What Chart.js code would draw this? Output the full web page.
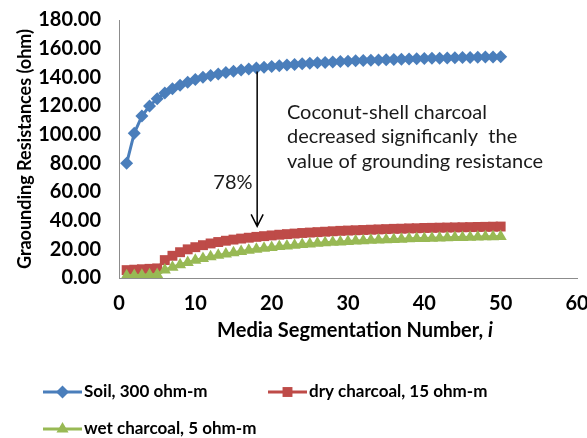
<!DOCTYPE html>
<html>
<head>
<meta charset="utf-8">
<script src="https://cdn.jsdelivr.net/npm/chart.js@4.4.1/dist/chart.umd.min.js"></script>
<style>
  html, body { margin: 0; padding: 0; background: #ffffff; }
  #wrap { width: 587px; height: 438px; position: relative; }
</style>
</head>
<body>
<div id="wrap"><canvas id="c" width="587" height="438"></canvas></div>
<script>
// Media segmentation numbers (x values)
const segments = [1,2,3,4,5,6,7,8,9,10,11,12,13,14,15,16,17,18,19,20,21,22,23,24,25,26,27,28,29,30,31,32,33,34,35,36,37,38,39,40,41,42,43,44,45,46,47,48,49,50];

// Grounding resistance (ohm)
const soil300 = [80,101,113,120,125,129,132,134.5,136.5,138.5,140,141.3,142.4,143.4,144.3,145.1,145.8,146.5,147.1,147.6,148.1,148.6,149.0,149.4,149.8,150.1,150.4,150.7,151.0,151.3,151.5,151.7,151.9,152.1,152.3,152.5,152.7,152.8,153.0,153.1,153.3,153.4,153.5,153.6,153.8,153.9,154.0,154.1,154.2,154.3];
const dryCharcoal15 = [5.5,5.8,6.1,6.4,6.7,12.5,15.5,18,20,21.5,22.9,24.1,25.1,26.0,26.8,27.5,28.1,28.7,29.2,29.7,30.2,30.6,31.0,31.4,31.7,32.0,32.3,32.6,32.9,33.1,33.3,33.5,33.7,33.9,34.1,34.3,34.4,34.6,34.7,34.9,35.0,35.1,35.2,35.3,35.4,35.5,35.6,35.7,35.8,35.9];
const wetCharcoal5 = [1.5,1.8,2.0,2.2,2.4,5.5,7.5,9.3,10.9,12.3,13.6,14.8,15.8,16.8,17.7,18.5,19.3,20.0,20.7,21.3,21.9,22.4,22.9,23.4,23.8,24.2,24.6,24.9,25.2,25.5,25.8,26.0,26.3,26.5,26.7,26.9,27.1,27.3,27.5,27.6,27.8,27.9,28.1,28.2,28.3,28.5,28.6,28.7,28.8,28.9];

const seriesNames = ["Soil, 300 ohm-m", "dry charcoal, 15 ohm-m", "wet charcoal, 5 ohm-m"];
const yTicks = [0,20,40,60,80,100,120,140,160,180];
const xTicks = [0,10,20,30,40,50,60];

const annotationLines = ["Coconut-shell charcoal", "decreased significanly  the", "value of grounding resistance"];
const percentLabel = "78%";

const FONT = "Lato, 'Open Sans', 'Liberation Sans', sans-serif";

function pts(ys) { return segments.map((x, i) => ({ x: x, y: ys[i] })); }

function drawMarker(ctx, style, x, y, r, color) {
  ctx.save();
  ctx.fillStyle = color;
  ctx.beginPath();
  if (style === 'rectRot') {
    ctx.moveTo(x, y - r); ctx.lineTo(x + r, y); ctx.lineTo(x, y + r); ctx.lineTo(x - r, y);
  } else if (style === 'rect') {
    const s = r * Math.SQRT1_2;
    ctx.rect(x - s, y - s, 2 * s, 2 * s);
  } else if (style === 'triangle') {
    ctx.moveTo(x, y - r);
    ctx.lineTo(x + r * Math.sin(Math.PI / 3), y + r * 0.5);
    ctx.lineTo(x - r * Math.sin(Math.PI / 3), y + r * 0.5);
  }
  ctx.closePath();
  ctx.fill();
  ctx.restore();
}

const extras = {
  id: 'extras',
  afterDraw(chart) {
    const ctx = chart.ctx;
    const xs = chart.scales.x, ys = chart.scales.y;
    ctx.save();
    // x axis title with italic i
    ctx.fillStyle = '#000';
    ctx.textBaseline = 'middle';
    const part1 = "Media Segmentation Number, ";
    const part2 = "i";
    ctx.font = "bold 20px " + FONT;
    const w1 = ctx.measureText(part1).width;
    ctx.font = "italic bold 20px " + FONT;
    const w2 = ctx.measureText(part2).width;
    const cx = (chart.chartArea.left + chart.chartArea.right) / 2 + 7;
    const ty = 331;
    let sx = cx - (w1 + w2) / 2;
    ctx.textAlign = 'left';
    ctx.font = "bold 20px " + FONT;
    ctx.fillText(part1, sx, ty);
    ctx.font = "italic bold 20px " + FONT;
    ctx.fillText(part2, sx + w1, ty);

    // arrow from soil curve to charcoal curve at segment 18
    const ax = xs.getPixelForValue(18.1);
    const aTop = ys.getPixelForValue(144);
    const aBot = ys.getPixelForValue(36);
    ctx.strokeStyle = '#000';
    ctx.lineWidth = 1.5;
    ctx.beginPath();
    ctx.moveTo(ax, aTop); ctx.lineTo(ax, aBot);
    ctx.moveTo(ax - 6, aBot - 12); ctx.lineTo(ax, aBot); ctx.lineTo(ax + 6, aBot - 12);
    ctx.stroke();

    // annotation text
    ctx.fillStyle = '#1a1a1a';
    ctx.font = "20px " + FONT;
    ctx.textAlign = 'left';
    const tx = xs.getPixelForValue(22.0);
    const lineVals = [115.5, 98.5, 81];
    annotationLines.forEach((t, i) => ctx.fillText(t, tx, ys.getPixelForValue(lineVals[i])));
    ctx.textAlign = 'right';
    ctx.fillText(percentLabel, xs.getPixelForValue(17.5), ys.getPixelForValue(66.5));

    // legend
    const legendPos = [[43, 392], [268, 392], [43, 429]];
    ctx.textAlign = 'left';
    ctx.font = "bold 17px " + FONT;
    chart.data.datasets.forEach((ds, i) => {
      const [lx, ly] = legendPos[i];
      ctx.strokeStyle = ds.borderColor;
      ctx.lineWidth = 3;
      ctx.beginPath();
      ctx.moveTo(lx, ly); ctx.lineTo(lx + 39, ly);
      ctx.stroke();
      drawMarker(ctx, ds.pointStyle, lx + 19.5, ly, ds.pointRadius, ds.backgroundColor);
      ctx.fillStyle = '#000';
      ctx.fillText(ds.label, lx + 41, ly);
    });
    ctx.restore();
  }
};

new Chart(document.getElementById('c'), {
  type: 'line',
  data: {
    datasets: [
      { label: seriesNames[0], data: pts(soil300), borderColor: '#4A7EBB', backgroundColor: '#4A7EBB',
        pointStyle: 'rectRot', pointRadius: 6.5, pointBorderWidth: 0, borderWidth: 3, order: 0 },
      { label: seriesNames[1], data: pts(dryCharcoal15), borderColor: '#BE4B48', backgroundColor: '#BE4B48',
        pointStyle: 'rect', pointRadius: 7, pointBorderWidth: 0, borderWidth: 3, order: 2 },
      { label: seriesNames[2], data: pts(wetCharcoal5), borderColor: '#98B954', backgroundColor: '#98B954',
        pointStyle: 'triangle', pointRadius: 7, pointBorderWidth: 0, borderWidth: 3, order: 1 }
    ]
  },
  options: {
    responsive: false,
    animation: false,
    layout: { padding: { left: 0, right: 10, top: 20, bottom: 0 } },
    plugins: { legend: { display: false }, tooltip: { enabled: false } },
    elements: { line: { tension: 0 } },
    scales: {
      x: {
        type: 'linear', min: 0, max: 60,
        afterBuildTicks(s) { s.ticks = xTicks.map(v => ({ value: v })); },
        afterFit(s) { s.height = 160; s.paddingRight = 0; s.paddingLeft = 0; },
        grid: { display: false, drawTicks: false },
        border: { display: true, color: '#8c8c8c', width: 1 },
        ticks: { padding: 14, color: '#000', font: { family: FONT, size: 20, weight: 'bold' }, maxRotation: 0 }
      },
      y: {
        type: 'linear', min: 0, max: 180,
        afterBuildTicks(s) { s.ticks = yTicks.map(v => ({ value: v })); },
        afterFit(s) { s.width = 119; s.paddingTop = 0; s.paddingBottom = 0; },
        grid: { display: false, drawTicks: false },
        border: { display: true, color: '#8c8c8c', width: 1 },
        ticks: { padding: 18, color: '#000', font: { family: FONT, size: 20, weight: 'bold' },
                 callback: v => Number(v).toFixed(2) },
        title: { display: true, text: 'Graounding Resistances (ohm)', color: '#000',
                 font: { family: FONT, size: 18, weight: 'bold' }, padding: { top: 14, bottom: 0 } }
      }
    }
  },
  plugins: [extras]
});
</script>
</body>
</html>
